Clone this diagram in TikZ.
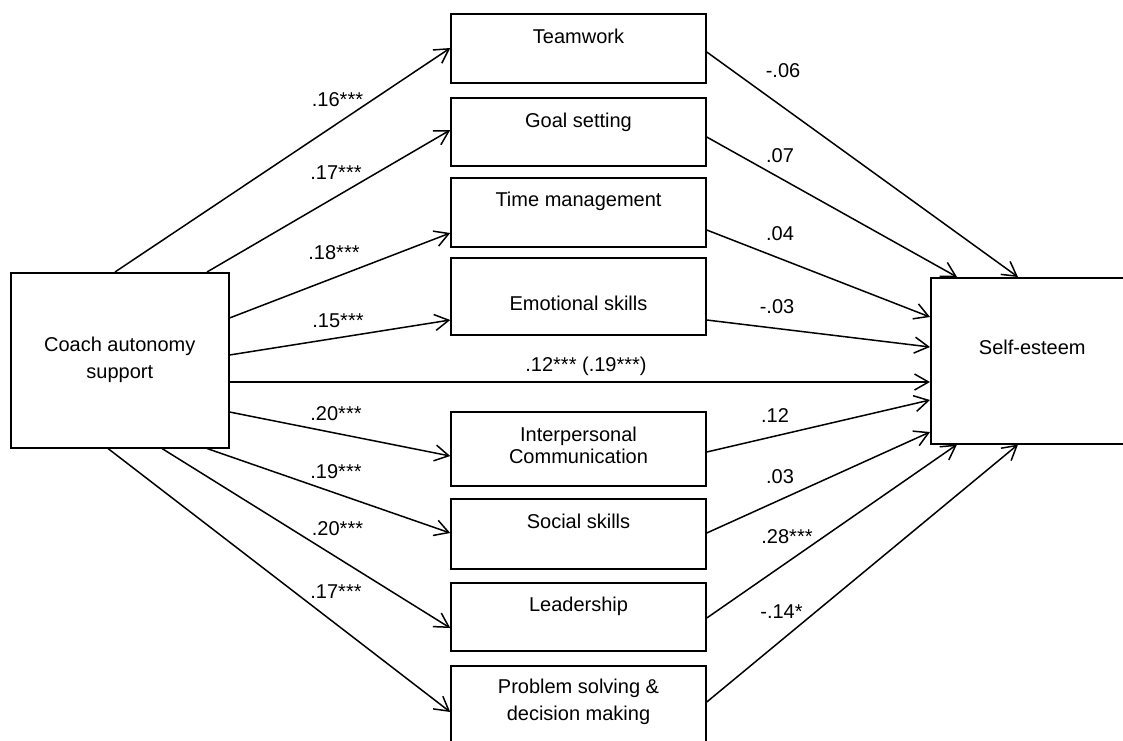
\documentclass[tikz,border=0pt]{standalone}
\usepackage{fontspec}
\setmainfont{Liberation Sans}
\usetikzlibrary{arrows.meta}

\begin{document}
\begin{tikzpicture}[x=0.5pt,y=-0.5pt,font=\fontsize{10}{11}\selectfont,
    box/.style={draw, line width=0.75pt, inner sep=0pt, align=center},
    skill/.style={box, minimum width=127.5pt, anchor=north},
    arr/.style={line width=0.75pt, -{Straight Barb[length=7pt,width=8pt]}},
    coef/.style={inner sep=0pt}]
    \useasboundingbox (0,0) rectangle (1123,740);
    \node[box, anchor=north west, minimum width=109pt, text height=53pt, text depth=34.5pt] (coach) at (10,272) {Coach autonomy\\[2.5pt]support};
    \node[box, anchor=north west, minimum width=101.5pt, text height=38.5pt, text depth=44.5pt] (self) at (930,277) {Self-esteem};
    \node[skill, text height=15pt, text depth=19.5pt] (team) at (578.5,13) {Teamwork};
    \node[skill, text height=15pt, text depth=19pt] (goal) at (578.5,97) {Goal setting};
    \node[skill, text height=14.5pt, text depth=20pt] (time) at (578.5,177) {Time management};
    \node[skill, text height=26.5pt, text depth=12pt] (emo) at (578.5,257) {Emotional skills};
    \node[skill, text height=25.85pt, text depth=11.15pt] (inter) at (578.5,411) {Interpersonal\\Communication};
    \node[skill, text height=14.75pt, text depth=20.25pt] (social) at (578.5,498) {Social skills};
    \node[skill, text height=14.5pt, text depth=19.5pt] (lead) at (578.5,582) {Leadership};
    \node[skill, text height=27.5pt, text depth=14pt] (prob) at (578.5,665) {Problem solving \&\\[2.5pt]decision making};

    \draw[arr] (coach.north -| 115,0) -- (team.west |- 0,48);
    \draw[arr] (coach.north -| 207,0) -- (goal.west |- 0,130);
    \draw[arr] (coach.east |- 0,318) -- (time.west |- 0,233);
    \draw[arr] (coach.east |- 0,355) -- (emo.west |- 0,320);
    \draw[arr] (coach.east |- 0,382) -- (self.west |- 0,382);
    \draw[arr] (coach.east |- 0,412) -- (inter.west |- 0,456);
    \draw[arr] (coach.south -| 207,0) -- (social.west |- 0,533);
    \draw[arr] (coach.south -| 162,0) -- (lead.west |- 0,628);
    \draw[arr] (coach.south -| 108,0) -- (prob.west |- 0,712);

    \draw[arr] (team.east |- 0,52) -- (self.north -| 1018,0);
    \draw[arr] (goal.east |- 0,137) -- (self.north -| 957,0);
    \draw[arr] (time.east |- 0,230) -- (self.west |- 0,317);
    \draw[arr] (emo.east |- 0,320) -- (self.west |- 0,347);
    \draw[arr] (inter.east |- 0,452) -- (self.west |- 0,400);
    \draw[arr] (social.east |- 0,533) -- (self.west |- 0,432);
    \draw[arr] (lead.east |- 0,618) -- (self.south -| 957,0);
    \draw[arr] (prob.east |- 0,702) -- (self.south -| 1018,0);

    \node[coef] (c-team) at (337.5,100) {.16***};
    \node[coef] (c-goal) at (336,173) {.17***};
    \node[coef] (c-time) at (334,253) {.18***};
    \node[coef] (c-emo) at (338,321) {.15***};
    \node[coef] (c-direct) at (586,366) {.12*** (.19***)};
    \node[coef] (c-inter) at (336,414) {.20***};
    \node[coef] (c-social) at (336,472) {.19***};
    \node[coef] (c-lead) at (337.5,529) {.20***};
    \node[coef] (c-prob) at (336,592) {.17***};

    \node[coef] (s-team) at (783,71) {-.06};
    \node[coef] (s-goal) at (780,156) {.07};
    \node[coef] (s-time) at (780,234) {.04};
    \node[coef] (s-emo) at (777,307) {-.03};
    \node[coef] (s-inter) at (775,415.5) {.12};
    \node[coef] (s-social) at (780,477) {.03};
    \node[coef] (s-lead) at (787,537) {.28***};
    \node[coef] (s-prob) at (781.5,612) {-.14*};
\end{tikzpicture}
\end{document}
